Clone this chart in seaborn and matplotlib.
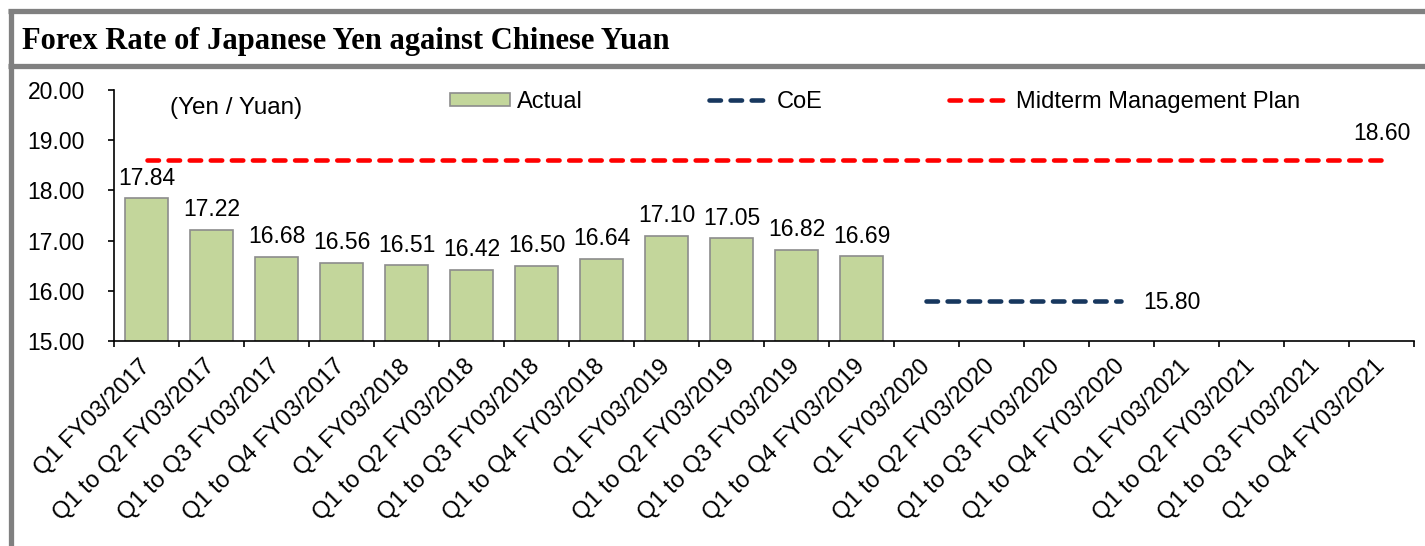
import matplotlib
matplotlib.use("Agg")
import matplotlib.pyplot as plt
from matplotlib.lines import Line2D
from matplotlib.patches import Patch
import numpy as np
import pandas as pd
import seaborn as sns

# ---- data ----
categories = [
    "Q1 FY03/2017", "Q1 to Q2 FY03/2017", "Q1 to Q3 FY03/2017", "Q1 to Q4 FY03/2017",
    "Q1 FY03/2018", "Q1 to Q2 FY03/2018", "Q1 to Q3 FY03/2018", "Q1 to Q4 FY03/2018",
    "Q1 FY03/2019", "Q1 to Q2 FY03/2019", "Q1 to Q3 FY03/2019", "Q1 to Q4 FY03/2019",
    "Q1 FY03/2020", "Q1 to Q2 FY03/2020", "Q1 to Q3 FY03/2020", "Q1 to Q4 FY03/2020",
    "Q1 FY03/2021", "Q1 to Q2 FY03/2021", "Q1 to Q3 FY03/2021", "Q1 to Q4 FY03/2021",
]
actual_periods = categories[:12]
actual_rates = [17.84, 17.22, 16.68, 16.56, 16.51, 16.42, 16.50, 16.64, 17.10, 17.05, 16.82, 16.69]
coe_periods = categories[12:16]
coe_rate = 15.80
plan_periods = categories
plan_rate = 18.60
y_ticks = [15.0, 16.0, 17.0, 18.0, 19.0, 20.0]

# ---- style ----
sns.set_theme(style="white")
plt.rcParams["font.family"] = ["Liberation Sans", "DejaVu Sans"]
plt.rcParams.update({"text.color": "black", "axes.labelcolor": "black",
                     "xtick.color": "black", "ytick.color": "black"})

W, H = 1425, 546
fig = plt.figure(figsize=(W / 100, H / 100), dpi=100)
fig.patch.set_facecolor("white")

# frame lines around the title band
border = "#808080"
def px_line(x0, y0, x1, y1, lw):
    fig.add_artist(Line2D([x0 / W, x1 / W], [1 - y0 / H, 1 - y1 / H],
                          color=border, lw=lw, solid_capstyle="butt"))
px_line(8, 11, W, 11, 3.8)
px_line(8, 66, W, 66, 3.8)
px_line(10.5, 9, 10.5, H, 3.8)

fig.text(22 / W, 1 - 42 / H, "Forex Rate of Japanese Yen against Chinese Yuan",
         family=["Liberation Serif", "DejaVu Serif"], weight="bold", fontsize=22,
         ha="left", va="center")

ax = fig.add_axes([114 / W, 1 - 341 / H, 1300 / W, 251 / H])

bar_color = "#C3D69B"
df = pd.DataFrame({"period": actual_periods, "rate": actual_rates})
sns.barplot(data=df, x="period", y="rate", order=categories, color=bar_color,
            saturation=1, width=0.66, edgecolor="#8C8C8C", linewidth=1.2, ax=ax)

pos = {c: i for i, c in enumerate(categories)}
plan_x = [pos[c] for c in plan_periods]
coe_x = [pos[c] for c in coe_periods]
sns.lineplot(x=[plan_x[0], plan_x[-1]], y=[plan_rate, plan_rate], ax=ax)
sns.lineplot(x=[coe_x[0], coe_x[-1]], y=[coe_rate, coe_rate], ax=ax)
red, navy = "#FF0000", "#17375E"
for ln, col in zip(ax.lines[-2:], [red, navy]):
    ln.set_color(col)
    ln.set_linewidth(3.3)
    ln.set_dashes((2.5, 2.1))
    ln.set_dash_capstyle("round")

ax.set_xlim(-0.5, len(categories) - 0.5)
ax.set_ylim(15, 20)
ax.set_yticks(y_ticks)
ax.set_yticklabels([f"{v:.2f}" for v in y_ticks])
ax.set_xlabel("")
ax.set_ylabel("")

ax.set_xticks(range(len(categories)))
ax.set_xticklabels(categories, rotation=45, ha="right", va="center",
                   rotation_mode="anchor", fontsize=17)
ax.set_xticks(np.arange(-0.5, len(categories), 1.0), minor=True)
ax.tick_params(axis="x", which="major", length=0, pad=16)
ax.tick_params(axis="x", which="minor", length=4.5, width=1.2, direction="out",
               color="black", bottom=True)
ax.tick_params(axis="y", length=4.5, width=1.2, direction="out", color="black",
               left=True, pad=16.5, labelsize=16.5)

for side in ["top", "right"]:
    ax.spines[side].set_visible(False)
for side in ["left", "bottom"]:
    ax.spines[side].set_color("black")
    ax.spines[side].set_linewidth(1.2)

# value labels
ax.bar_label(ax.containers[0], fmt="%.2f", padding=6, fontsize=16.5)
ax.annotate(f"{plan_rate:.2f}", (plan_x[-1], plan_rate), xytext=(0, 19),
            textcoords="offset points", ha="center", va="center", fontsize=16.5)
ax.annotate(f"{coe_rate:.2f}", (coe_x[-1], coe_rate), xytext=(15.5, -1.5),
            textcoords="offset points", ha="left", va="center", fontsize=16.5)

ax.text(170 / W, 1 - 108 / H, "(Yen / Yuan)", transform=fig.transFigure,
        ha="left", va="center", fontsize=17.5)

handles = [
    Patch(facecolor=bar_color, edgecolor="#8C8C8C", linewidth=1.2),
    Line2D([], [], color=navy, lw=3.3, dashes=(2.5, 2.1), dash_capstyle="round"),
    Line2D([], [], color=red, lw=3.3, dashes=(2.5, 2.1), dash_capstyle="round"),
]
ax.legend(handles, ["Actual", "CoE", "Midterm Management Plan"], ncol=3,
          loc="center left", bbox_to_anchor=(450 / W, 1 - 102 / H),
          bbox_transform=fig.transFigure, frameon=False, fontsize=17,
          borderpad=0, borderaxespad=0, handlelength=2.55, handleheight=0.5,
          handletextpad=0.3, columnspacing=5.35)

fig.savefig("out.png", dpi=100)
